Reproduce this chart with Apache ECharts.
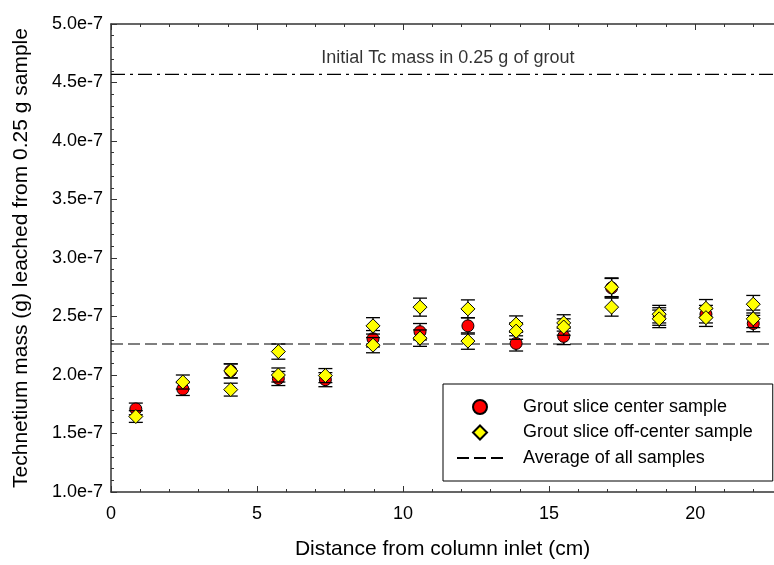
<!DOCTYPE html>
<html>
<head>
<meta charset="utf-8">
<script src="https://cdn.jsdelivr.net/npm/echarts@6/dist/echarts.min.js"></script>
<style>
  html, body { margin: 0; padding: 0; background: #fff; }
  #chart { width: 774px; height: 565px; }
</style>
</head>
<body>
<div id="chart"></div>
<script>
// ── Data (values in g) ──────────────────────────────────────────────────────
const centerX = [0.85, 2.46, 4.1, 5.73, 7.34, 8.97, 10.58, 12.22, 13.87, 15.5, 17.14, 18.77, 20.37, 21.99];
const centerY = [1.71e-7, 1.88e-7, 2.035e-7, 1.97e-7, 1.96e-7, 2.31e-7, 2.37e-7, 2.42e-7, 2.27e-7, 2.33e-7, 2.745e-7, 2.50e-7, 2.52e-7, 2.44e-7];
const centerErr = [0.05e-7, 0.055e-7, 0.06e-7, 0.06e-7, 0.06e-7, 0.07e-7, 0.07e-7, 0.07e-7, 0.065e-7, 0.07e-7, 0.08e-7, 0.075e-7, 0.075e-7, 0.07e-7];

const offX = [0.85, 2.46, 4.1, 4.1, 5.73, 5.73, 7.34, 8.97, 8.97, 10.58, 10.58, 12.22, 12.22, 13.87, 13.87, 15.5, 15.5, 17.14, 17.14, 18.77, 18.77, 20.37, 20.37, 21.99, 21.99];
const offY = [1.645e-7, 1.94e-7, 2.035e-7, 1.875e-7, 2.20e-7, 2.00e-7, 1.995e-7, 2.42e-7, 2.255e-7, 2.58e-7, 2.315e-7, 2.565e-7, 2.29e-7, 2.435e-7, 2.375e-7, 2.445e-7, 2.41e-7, 2.75e-7, 2.58e-7, 2.52e-7, 2.48e-7, 2.57e-7, 2.49e-7, 2.605e-7, 2.48e-7];
const offErr = [0.05e-7, 0.06e-7, 0.06e-7, 0.055e-7, 0.065e-7, 0.06e-7, 0.06e-7, 0.07e-7, 0.065e-7, 0.077e-7, 0.07e-7, 0.077e-7, 0.07e-7, 0.07e-7, 0.07e-7, 0.07e-7, 0.07e-7, 0.08e-7, 0.077e-7, 0.075e-7, 0.075e-7, 0.075e-7, 0.075e-7, 0.075e-7, 0.075e-7];

const averageMass = 2.265e-7;
const initialMass = 4.57e-7;
const initialLabel = "Initial Tc mass in 0.25 g of grout";
const initialLabelX = 7.2;

const xMin = 0, xMax = 22.7, xStep = 5;
const yMin = 1.0e-7, yMax = 5.0e-7, yStep = 0.5e-7;

// ── Chart ───────────────────────────────────────────────────────────────────
const chart = echarts.init(document.getElementById("chart"));
const FONT = "Liberation Sans, Arial, sans-serif";
const INK = "#000";

function errorBars(name, xs, ys, errs, z) {
  return {
    type: "custom",
    name: name,
    z: z,
    silent: true,
    data: xs.map((x, i) => [x, ys[i] - errs[i], ys[i] + errs[i]]),
    encode: { x: 0, y: [1, 2] },
    renderItem: function (params, api) {
      const lo = api.coord([api.value(0), api.value(1)]);
      const hi = api.coord([api.value(0), api.value(2)]);
      const w = 7;
      const style = { stroke: INK, lineWidth: 1.3 };
      return {
        type: "group",
        children: [
          { type: "line", shape: { x1: lo[0], y1: lo[1], x2: hi[0], y2: hi[1] }, style: style },
          { type: "line", shape: { x1: lo[0] - w, y1: lo[1], x2: lo[0] + w, y2: lo[1] }, style: style },
          { type: "line", shape: { x1: hi[0] - w, y1: hi[1], x2: hi[0] + w, y2: hi[1] }, style: style },
        ],
      };
    },
  };
}

const axisLine = { lineStyle: { color: "#333", width: 1.5 } };

const option = {
  animation: false,
  textStyle: { fontFamily: FONT },
  grid: { left: 111, top: 24, bottom: 71, width: 665 },
  legend: {
    data: [
      { name: "Grout slice center sample" },
      { name: "Grout slice off-center sample", icon: "path://M5,0L10,5L5,10L0,5Z" },
      { name: "Average of all samples", itemStyle: { opacity: 0 } },
    ],
    orient: "vertical",
    left: 443,
    top: 384,
    padding: [14, 20, 14, 13],
    itemWidth: 46,
    itemHeight: 14,
    itemGap: 7.5,
    symbolKeepAspect: true,
    borderColor: INK,
    borderWidth: 1,
    backgroundColor: "#fff",
    textStyle: { fontSize: 18, color: INK, fontFamily: FONT, padding: [0, 0, 0, 15] },
  },
  xAxis: [
    {
      type: "value",
      min: xMin,
      max: xMax,
      interval: xStep,
      name: "Distance from column inlet (cm)",
      nameLocation: "middle",
      nameGap: 47,
      nameTextStyle: { fontSize: 21, color: INK },
      axisLine: axisLine,
      axisTick: { inside: true, length: 6, lineStyle: { color: "#333" } },
      minorTick: { show: true, splitNumber: 5, length: 3, lineStyle: { color: "#333" } },
      splitLine: { show: false },
      axisLabel: { fontSize: 18, color: INK, margin: 13, showMaxLabel: false },
    },
    {
      type: "value",
      position: "top",
      min: xMin,
      max: xMax,
      interval: xStep,
      axisLine: axisLine,
      axisTick: { inside: true, length: 6, lineStyle: { color: "#333" } },
      minorTick: { show: true, splitNumber: 5, length: 3, lineStyle: { color: "#333" } },
      splitLine: { show: false },
      axisLabel: { show: false },
    },
  ],
  yAxis: {
    type: "value",
    min: yMin,
    max: yMax,
    interval: yStep,
    name: "Technetium mass (g) leached from 0.25 g sample",
    nameLocation: "middle",
    nameGap: 79,
    nameTextStyle: { fontSize: 21, color: INK },
    axisLine: { show: true, lineStyle: { color: "#333", width: 1.5 } },
    axisTick: { inside: true, length: 6, lineStyle: { color: "#333" } },
    minorTick: { show: true, splitNumber: 5, length: 3, lineStyle: { color: "#333" } },
    splitLine: { show: false },
    axisLabel: {
      fontSize: 18,
      color: INK,
      margin: 8,
      formatter: (v) => v.toExponential(1),
    },
  },
  series: [
    {
      name: "Average of all samples",
      type: "line",
      symbol: "none",
      z: 1,
      data: [[xMin, averageMass], [xMax, averageMass]],
      itemStyle: { color: INK },
      lineStyle: { color: INK, width: 1.2, type: [12, 5] },
    },
    {
      name: "Initial Tc mass",
      type: "line",
      symbol: "none",
      z: 1,
      data: [[xMin, initialMass], [xMax, initialMass]],
      itemStyle: { color: INK },
      lineStyle: { color: INK, width: 1.2, type: [14, 5, 3, 5] },
    },
    {
      name: "Initial label",
      type: "scatter",
      symbolSize: 0,
      silent: true,
      data: [[initialLabelX, initialMass]],
      label: {
        show: true,
        position: "top",
        align: "left",
        distance: 7,
        formatter: initialLabel,
        fontSize: 18,
        color: INK,
        fontFamily: FONT,
      },
    },
    errorBars("center err", centerX, centerY, centerErr, 2),
    {
      name: "Grout slice center sample",
      type: "scatter",
      symbol: "circle",
      symbolSize: 12,
      z: 3,
      data: centerX.map((x, i) => [x, centerY[i]]),
      itemStyle: { color: "#ff0000", borderColor: INK, borderWidth: 1, opacity: 1 },
    },
    errorBars("off err", offX, offY, offErr, 4),
    {
      name: "Grout slice off-center sample",
      type: "scatter",
      symbol: "diamond",
      symbolSize: 14,
      z: 5,
      data: offX.map((x, i) => [x, offY[i]]),
      itemStyle: { color: "#ffff00", borderColor: INK, borderWidth: 1, opacity: 1 },
    },
  ],
};

chart.setOption(option);
window.addEventListener("resize", () => chart.resize());
</script>
</body>
</html>
